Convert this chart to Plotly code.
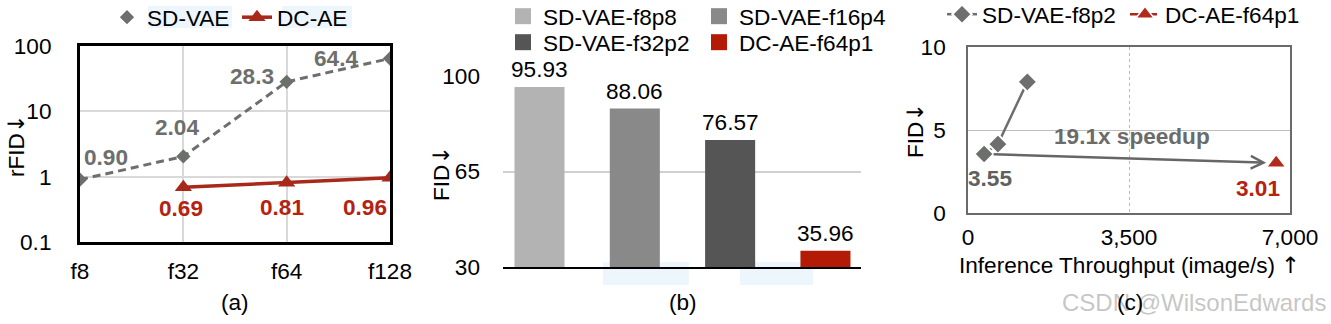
import math
import plotly.graph_objects as go

# ---------------- data ----------------
# panel (a)
a_categories = ["f8", "f32", "f64", "f128"]
a_sdvae = [0.90, 2.04, 28.3, 64.4]
a_sdvae_labels = ["0.90", "2.04", "28.3", "64.4"]
a_dcae_cats = ["f32", "f64", "f128"]
a_dcae = [0.69, 0.81, 0.96]
a_dcae_labels = ["0.69", "0.81", "0.96"]
a_yticks = [0.1, 1, 10, 100]
a_yticktext = ["0.1", "1", "10", "100"]

# panel (b)
b_names = ["SD-VAE-f8p8", "SD-VAE-f16p4", "SD-VAE-f32p2", "DC-AE-f64p1"]
b_values = [95.93, 88.06, 76.57, 35.96]
b_labels = ["95.93", "88.06", "76.57", "35.96"]
b_yticks = [30, 65, 100]

# panel (c)
c_sd_throughput = [350, 650, 1290]
c_sd_fid = [3.55, 4.15, 7.9]
c_dc_throughput = [6700]
c_dc_fid = [3.01]
c_xticks = [0, 3500, 7000]
c_yticks = [0, 5, 10]

# ---------------- style ----------------
FONT = "Liberation Sans, Arial, Helvetica, sans-serif"
FS = 22.6
GREY = "#6d6f6d"
RED_A = "#a8281a"
RED_TXT = "#b5220f"
BAR_COLORS = ["#b3b3b3", "#898989", "#555555", "#b31b06"]
W, H = 1331, 324
ARROW_SPAN = '<span style="font-family:DejaVu Sans">%s</span>'


def px_x(p):
    return p / W


def px_y(p):
    return 1 - p / H


fig = go.Figure()

# ---------------- panel (a) ----------------
fig.add_trace(go.Scatter(
    x=a_categories, y=a_sdvae, name="SD-VAE", mode="lines",
    line=dict(color=GREY, width=3, dash="8px,5px"), showlegend=False,
    xaxis="x", yaxis="y",
))
fig.add_trace(go.Scatter(
    x=a_categories, y=a_sdvae, name="SD-VAE", mode="markers",
    marker=dict(symbol="diamond", size=11, color=GREY),
    xaxis="x", yaxis="y", legend="legend",
))
fig.add_trace(go.Scatter(
    x=a_dcae_cats, y=a_dcae, name="DC-AE", mode="lines+markers",
    line=dict(color=RED_A, width=3.5),
    marker=dict(symbol="triangle-up", size=15, color=RED_A),
    xaxis="x", yaxis="y", legend="legend",
))

# ---------------- panel (b) ----------------
for i, (n, v, c) in enumerate(zip(b_names, b_values, BAR_COLORS)):
    fig.add_trace(go.Bar(
        x=[i], y=[v], name=n, marker=dict(color=c, line=dict(width=0)),
        width=0.525, showlegend=False, xaxis="x2", yaxis="y2",
    ))
    fig.add_trace(go.Scatter(
        x=[None], y=[None], name=n, mode="markers",
        marker=dict(symbol="square", size=16, color=c),
        xaxis="x2", yaxis="y2", legend="legend2" if i < 2 else "legend3",
    ))

# ---------------- panel (c) ----------------
fig.add_trace(go.Scatter(
    x=c_sd_throughput, y=c_sd_fid, name="SD-VAE-f8p2", mode="lines+markers",
    line=dict(color=GREY, width=2.5),
    marker=dict(symbol="diamond", size=15, color=GREY, line=dict(color="white", width=2)),
    xaxis="x3", yaxis="y3", legend="legend4",
))
fig.add_trace(go.Scatter(
    x=c_dc_throughput, y=c_dc_fid, name="DC-AE-f64p1", mode="lines+markers",
    line=dict(color=RED_A, width=2.5, dash="dash"),
    marker=dict(symbol="triangle-up", size=17, color="#b22a1c", line=dict(color="white", width=1.5)),
    xaxis="x3", yaxis="y3", legend="legend4",
))

annotations = []

# panel (a) value labels
a_sd_shift = [(26, 22), (-6, 29), (-35, 5), (-54, 0)]
for cat, v, lab, (dx, dy) in zip(a_categories, a_sdvae, a_sdvae_labels, a_sd_shift):
    annotations.append(dict(x=cat, y=math.log10(v), xref="x", yref="y",
                            text="<b>%s</b>" % lab, showarrow=False, xshift=dx, yshift=dy,
                            font=dict(color=GREY, size=FS)))
a_dc_shift = [(-2, -21), (-5, -25), (-25, -30)]
for cat, v, lab, (dx, dy) in zip(a_dcae_cats, a_dcae, a_dcae_labels, a_dc_shift):
    annotations.append(dict(x=cat, y=math.log10(v), xref="x", yref="y",
                            text="<b>%s</b>" % lab, showarrow=False, xshift=dx, yshift=dy,
                            font=dict(color=RED_TXT, size=FS)))

# panel (b) value labels
for i, (v, lab) in enumerate(zip(b_values, b_labels)):
    annotations.append(dict(x=i, y=v, xref="x2", yref="y2", text=lab, showarrow=False,
                            yanchor="bottom", yshift=3, font=dict(color="black", size=FS)))

# panel (c) labels and arrow
annotations.append(dict(x=c_dc_throughput[0], y=c_dc_fid[0], xref="x3", yref="y3",
                        ax=c_sd_throughput[0], ay=c_sd_fid[0], axref="x3", ayref="y3",
                        showarrow=True, arrowhead=5, arrowsize=1, arrowwidth=2.5,
                        arrowcolor="#666666", standoff=10, startstandoff=8, text=""))
annotations.append(dict(x=3560, y=4.6, xref="x3", yref="y3", text="<b>19.1x speedup</b>",
                        showarrow=False, font=dict(color="#6b6b6b", size=FS)))
annotations.append(dict(x=c_sd_throughput[0], y=c_sd_fid[0], xref="x3", yref="y3",
                        text="<b>3.55</b>", showarrow=False, xshift=6, yshift=-24,
                        font=dict(color="#5f615f", size=FS)))
annotations.append(dict(x=c_dc_throughput[0], y=c_dc_fid[0], xref="x3", yref="y3",
                        text="<b>3.01</b>", showarrow=False, xshift=-18, yshift=-25,
                        font=dict(color=RED_TXT, size=FS)))


def paper_text(x, y, text, angle=0, font=None):
    d = dict(x=px_x(x), y=px_y(y), xref="paper", yref="paper", text=text,
             xanchor="center", yanchor="middle", textangle=angle, showarrow=False)
    if font:
        d["font"] = font
    return d


# titles / captions
annotations += [
    paper_text(16, 146, "rFID" + ARROW_SPAN % "↓", -90),
    paper_text(235, 302, "(a)"),
    paper_text(441, 174, "FID" + ARROW_SPAN % "↓", -90),
    paper_text(683, 302, "(b)"),
    paper_text(915, 131, "FID" + ARROW_SPAN % "↓", -90),
    paper_text(1129, 265, "Inference Throughput (image/s) " + ARROW_SPAN % "↑"),
    paper_text(1194, 302, "CSDN @WilsonEdwards",
               font=dict(color="rgba(160,160,160,0.6)", size=24)),
    paper_text(1130, 302, "(c)"),
]


def hl_rect(x0, x1, y0, y1):
    return dict(type="rect", xref="paper", yref="paper", x0=px_x(x0), x1=px_x(x1),
                y0=px_y(y1), y1=px_y(y0), fillcolor="#eef6fd", line=dict(width=0),
                layer="below")


shapes = [
    hl_rect(603, 689, 262, 285),
    hl_rect(740, 813, 262, 285),
    hl_rect(148, 232, 6, 28),
    hl_rect(282, 352, 6, 28),
]

legend_common = dict(orientation="h", xanchor="left", yanchor="top", bgcolor="rgba(0,0,0,0)",
                     font=dict(size=FS, color="black", family=FONT), itemclick=False,
                     itemdoubleclick=False, entrywidthmode="pixels")

fig.update_layout(
    width=W, height=H, margin=dict(l=0, r=0, t=0, b=0, pad=0, autoexpand=False),
    paper_bgcolor="white", plot_bgcolor="white",
    font=dict(family=FONT, size=FS, color="black"),
    barmode="overlay",
    annotations=annotations, shapes=shapes,
    legend=dict(x=px_x(107), y=px_y(-4), entrywidth=85, **legend_common),
    legend2=dict(x=px_x(503), y=px_y(-5), entrywidth=151, **legend_common),
    legend3=dict(x=px_x(503), y=px_y(21), entrywidth=151, **legend_common),
    legend4=dict(x=px_x(942), y=px_y(-7), entrywidth=138, **legend_common),
    # panel (a)
    xaxis=dict(domain=[px_x(80), px_x(390)], type="category", range=[0, 3],
               showgrid=True, gridcolor="#d9d9d9", gridwidth=1.5,
               showline=True, mirror=True, linecolor="black", linewidth=3,
               ticks="", ticklabelstandoff=7, anchor="y", fixedrange=True),
    yaxis=dict(domain=[px_y(242), px_y(46)], type="log", range=[-1, 2],
               tickvals=a_yticks, ticktext=a_yticktext,
               showgrid=True, gridcolor="#d9d9d9", gridwidth=1.5,
               showline=True, mirror=True, linecolor="black", linewidth=3,
               ticks="", ticklabelstandoff=21, anchor="x", fixedrange=True),
    # panel (b)
    xaxis2=dict(domain=[px_x(503), px_x(861)], range=[-0.383, 3.373],
                showticklabels=False, showgrid=False, zeroline=False,
                showline=True, linecolor="black", linewidth=1.5, ticks="",
                anchor="y2", fixedrange=True),
    yaxis2=dict(domain=[px_y(267), px_y(76)], range=[30, 100], tickvals=b_yticks,
                showgrid=True, gridcolor="#d0d0d0", gridwidth=1.5, zeroline=False,
                showline=False, ticks="", ticklabelstandoff=22, anchor="x2", fixedrange=True),
    # panel (c)
    xaxis3=dict(domain=[px_x(968), px_x(1290)], range=[0, 7000], tickvals=c_xticks,
                tickformat=",d", showgrid=True, gridcolor="#bbbbbb", gridwidth=1.2,
                griddash="dot", zeroline=False,
                showline=True, mirror=True, linecolor="#6a6a6a", linewidth=1.5,
                ticks="", ticklabelstandoff=3, anchor="y3", fixedrange=True),
    yaxis3=dict(domain=[px_y(213), px_y(47)], range=[0, 10], tickvals=c_yticks,
                showgrid=True, gridcolor="#bdbdbd", gridwidth=1, zeroline=False,
                showline=True, mirror=True, linecolor="#6a6a6a", linewidth=1.5,
                ticks="", ticklabelstandoff=16, anchor="x3", fixedrange=True),
    showlegend=True,
)

fig.write_html("out.html")
